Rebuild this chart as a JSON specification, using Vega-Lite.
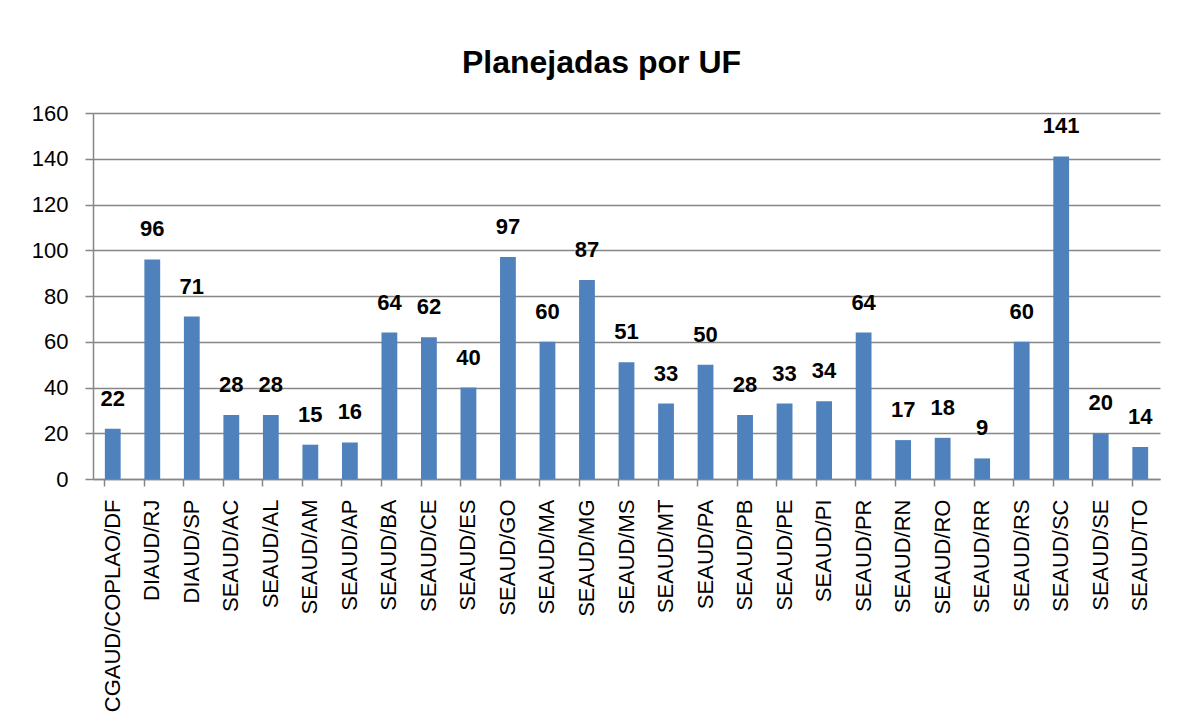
{
  "$schema": "https://vega.github.io/schema/vega-lite/v6.json",
  "autosize": {"type": "none"},
  "width": 1067,
  "height": 366,
  "padding": {"left": 93, "top": 113, "right": 17, "bottom": 244},
  "background": "white",
  "title": {
    "text": "Planejadas por UF",
    "font": "Liberation Sans",
    "fontSize": 32,
    "fontWeight": "bold",
    "color": "black",
    "anchor": "middle",
    "dx": -25,
    "offset": 22
  },
  "data": {
    "values": [
      {"uf": "CGAUD/COPLAO/DF", "v": 22},
      {"uf": "DIAUD/RJ", "v": 96},
      {"uf": "DIAUD/SP", "v": 71},
      {"uf": "SEAUD/AC", "v": 28},
      {"uf": "SEAUD/AL", "v": 28},
      {"uf": "SEAUD/AM", "v": 15},
      {"uf": "SEAUD/AP", "v": 16},
      {"uf": "SEAUD/BA", "v": 64},
      {"uf": "SEAUD/CE", "v": 62},
      {"uf": "SEAUD/ES", "v": 40},
      {"uf": "SEAUD/GO", "v": 97},
      {"uf": "SEAUD/MA", "v": 60},
      {"uf": "SEAUD/MG", "v": 87},
      {"uf": "SEAUD/MS", "v": 51},
      {"uf": "SEAUD/MT", "v": 33},
      {"uf": "SEAUD/PA", "v": 50},
      {"uf": "SEAUD/PB", "v": 28},
      {"uf": "SEAUD/PE", "v": 33},
      {"uf": "SEAUD/PI", "v": 34},
      {"uf": "SEAUD/PR", "v": 64},
      {"uf": "SEAUD/RN", "v": 17},
      {"uf": "SEAUD/RO", "v": 18},
      {"uf": "SEAUD/RR", "v": 9},
      {"uf": "SEAUD/RS", "v": 60},
      {"uf": "SEAUD/SC", "v": 141},
      {"uf": "SEAUD/SE", "v": 20},
      {"uf": "SEAUD/TO", "v": 14}
    ]
  },
  "encoding": {
    "x": {
      "field": "uf",
      "type": "nominal",
      "sort": null,
      "scale": {"paddingInner": 0.6, "paddingOuter": 0.3},
      "axis": {
        "title": null,
        "labelAngle": -90,
        "labelFont": "Liberation Sans",
        "labelFontSize": 22,
        "labelColor": "black",
        "labelPadding": 13,
        "bandPosition": 0,
        "tickSize": 7,
        "tickColor": "#868686",
        "domainColor": "#868686",
        "domainWidth": 1.5,
        "tickWidth": 1.5,
        "labelLimit": 400,
        "grid": false
      }
    },
    "y": {
      "field": "v",
      "type": "quantitative",
      "scale": {"domain": [0, 160], "nice": false},
      "axis": {
        "title": null,
        "values": [0, 20, 40, 60, 80, 100, 120, 140, 160],
        "labelFont": "Liberation Sans",
        "labelFontSize": 22,
        "labelColor": "black",
        "labelPadding": 17,
        "tickSize": 8,
        "tickColor": "#868686",
        "tickWidth": 1.5,
        "domainColor": "#868686",
        "domainWidth": 1.5,
        "grid": true,
        "gridColor": "#868686",
        "gridWidth": 1.5
      }
    }
  },
  "layer": [
    {"mark": {"type": "bar", "color": "#4F81BD"}},
    {
      "mark": {
        "type": "text",
        "baseline": "bottom",
        "dy": -18,
        "font": "Liberation Sans",
        "fontSize": 22,
        "fontWeight": "bold",
        "color": "black"
      },
      "encoding": {"text": {"field": "v", "type": "quantitative"}}
    }
  ],
  "config": {"view": {"stroke": null}}
}
